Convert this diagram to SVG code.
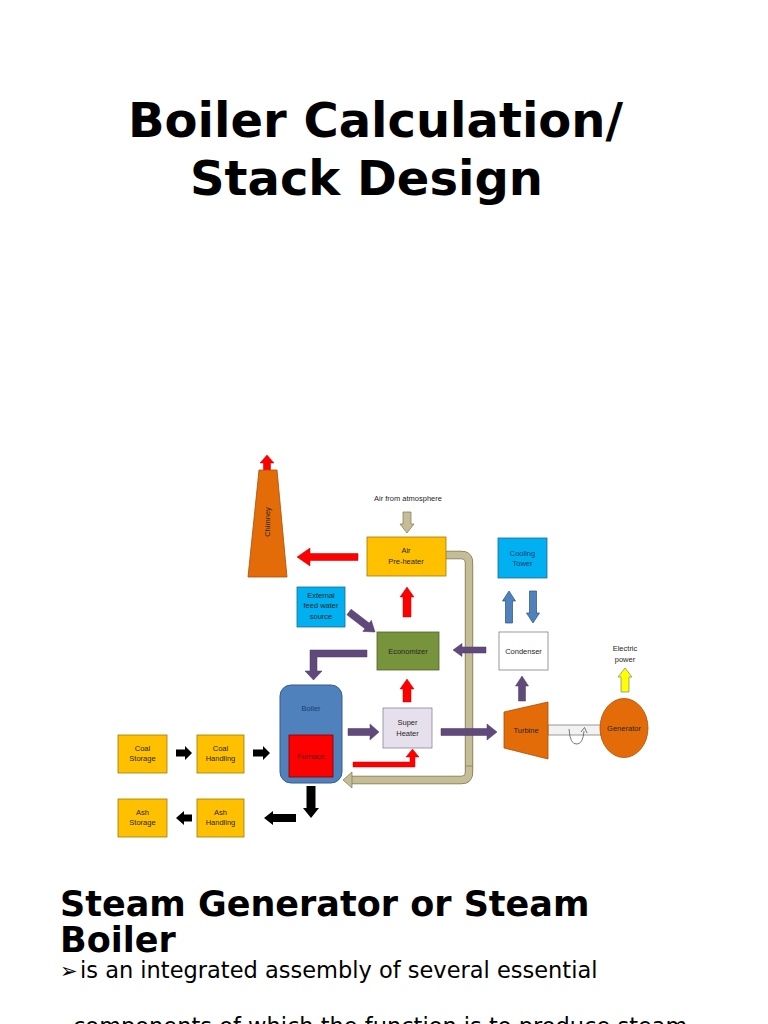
<svg xmlns="http://www.w3.org/2000/svg" width="768" height="1024" viewBox="0 0 768 1024">
<style>
.title{font-family:"DejaVu Sans",sans-serif;font-weight:bold;font-size:48px;fill:#000}
.h2{font-family:"DejaVu Sans",sans-serif;font-weight:bold;font-size:35px;fill:#000}
.body{font-family:"DejaVu Sans",sans-serif;font-size:22.5px;fill:#000}
.lbl{font-family:"Liberation Sans",Arial,sans-serif;font-size:7.5px;fill:#262626;text-anchor:middle}
.blue{fill:#1F3C6E}
.gold{fill:#FFC000;stroke:#9C7A0C;stroke-width:0.8}
.cyan{fill:#00B0F0;stroke:#1F6C8C;stroke-width:0.8}
.orange{fill:#E36C09;stroke:#A84E07;stroke-width:0.8}
.red{fill:#FF0000;stroke:#C00000;stroke-width:0.5}
.purple{fill:#604A7B;stroke:#4A3860;stroke-width:0.5}
.barrow{fill:#4F81BD;stroke:#2F4F7A;stroke-width:0.7}
.black{fill:#000}
.tan{fill:#C4BD97;stroke:#7F7650;stroke-width:0.7}
</style>

<g id="title">
<text class="title" x="128" y="137">Boiler Calculation/</text>
<text class="title" x="190" y="195">Stack Design</text>
</g>

<g id="connectors">
<path d="M446,555 H461 Q469,555 469,563 V772 Q469,780 461,780 H351" fill="none" stroke="#7F7650" stroke-width="8.4"/>
<path d="M446,555 H461 Q469,555 469,563 V772 Q469,780 461,780 H351" fill="none" stroke="#C4BD97" stroke-width="6.8"/>
<polygon class="tan" points="343,780 352,772 352,788"/>
<path d="M465.5,766 H472.5" stroke="#7F7650" stroke-width="0.7"/>
<polygon class="red" points="267,455 274,463 270.5,463 270.5,471 263.5,471 263.5,463 260,463"/>
<polygon class="tan" points="403,512 411,512 411,524 414,524 407,533 400,524 403,524"/>
<polygon class="red" points="297,557 310,548 310,553.5 358,553.5 358,560.5 310,560.5 310,566"/>
<polygon class="red" points="407,587 414,597 411,597 411,617 403,617 403,597 400,597"/>
<polygon class="red" points="407,679 414,689 411,689 411,702 403,702 403,689 400,689"/>
<polygon class="purple" points="375,632 362.8,631.45 364.93,628.68 346.87,614.78 351.14,609.22 369.2,623.12 371.34,620.35"/>
<polygon class="purple" points="367,650 310,650 310,671 305,671 313.5,680 322,671 317,671 317,657 367,657"/>
<polygon class="purple" points="453,650 462,643.5 462,647 486,647 486,653 462,653 462,656.5"/>
<polygon class="purple" points="522,676 528.5,686 525.5,686 525.5,701 518.5,701 518.5,686 515.5,686"/>
<polygon class="barrow" points="509,591 515.5,601 512.5,601 512.5,623 505.5,623 505.5,601 502.5,601"/>
<polygon class="barrow" points="529.5,591 536.5,591 536.5,613 539.5,613 533,623 526.5,613 529.5,613"/>
<polygon fill="#FFFF00" stroke="#7F7F7F" stroke-width="0.7" points="625,668 632,677 629,677 629,692 621,692 621,677 618,677"/>
<polygon class="purple" points="379,732 370,724 370,728.5 348,728.5 348,735.5 370,735.5 370,740"/>
<polygon class="purple" points="497,732 487,724 487,728.5 441,728.5 441,735.5 487,735.5 487,740"/>
<polygon class="red" points="353,762 410,762 410,757 406,757 412.5,749 419,757 415,757 415,767 353,767"/>
<polygon class="black" points="306.5,786 315.5,786 315.5,808 319,808 311,818 303,808 306.5,808"/>
<polygon class="black" points="192,753 185,746 185,749.5 176,749.5 176,756.5 185,756.5 185,760"/>
<polygon class="black" points="270,753 263,746 263,749.5 253,749.5 253,756.5 263,756.5 263,760"/>
<polygon class="black" points="176,818 184,811 184,814.5 192,814.5 192,821.5 184,821.5 184,825"/>
<polygon class="black" points="264,818 273,811 273,814 296,814 296,822 273,822 273,825"/>
<rect x="548" y="725" width="53" height="10" fill="#F2F2F2" stroke="#7F7F7F" stroke-width="0.8"/>
<path d="M569,729 Q570,745 577,744 Q583,744 584,731" fill="none" stroke="#595959" stroke-width="0.8"/>
<path d="M581,732 L584.5,727.5 L587,733" fill="none" stroke="#595959" stroke-width="0.8"/>
</g>

<g id="chimney">
<polygon class="orange" points="259,470 277,470 287,577 248,577"/>
<text class="lbl" transform="translate(270,522) rotate(-90)">Chimney</text>
</g>

<g id="air-label">
<text class="lbl" x="408" y="501">Air from atmosphere</text>
</g>

<g id="air-preheater">
<rect class="gold" x="367" y="537" width="79" height="39"/>
<text class="lbl" x="406" y="553">Air</text>
<text class="lbl" x="406" y="564">Pre-heater</text>
</g>

<g id="external-feed">
<rect class="cyan" x="297" y="587" width="48" height="40"/>
<text class="lbl" x="321" y="598">External</text>
<text class="lbl" x="321" y="608">feed water</text>
<text class="lbl" x="321" y="619">source</text>
</g>

<g id="economizer">
<rect x="377" y="632" width="62" height="38" fill="#77933C" stroke="#4F6228" stroke-width="0.8"/>
<text class="lbl" x="408" y="654">Economizer</text>
</g>

<g id="cooling-tower">
<rect class="cyan" x="498" y="538" width="49" height="40"/>
<text class="lbl blue" x="522.5" y="556">Cooling</text>
<text class="lbl blue" x="522.5" y="566">Tower</text>
</g>

<g id="condenser">
<rect x="499" y="632" width="49" height="38" fill="#FFFFFF" stroke="#7F7F7F" stroke-width="0.8"/>
<text class="lbl" x="523.5" y="654">Condenser</text>
</g>

<g id="electric-power">
<text class="lbl" x="625" y="651">Electric</text>
<text class="lbl" x="625" y="662">power</text>
</g>

<g id="boiler">
<rect x="280" y="685" width="62" height="98" rx="11" fill="#4F81BD" stroke="#385D8A" stroke-width="1"/>
<text class="lbl blue" x="311" y="711">Boiler</text>
</g>

<g id="furnace">
<rect x="289" y="735" width="44" height="42" fill="#FF0000" stroke="#7F0000" stroke-width="0.8"/>
<text class="lbl" x="311" y="759" style="fill:#5A1010">Furnace</text>
</g>

<g id="super-heater">
<rect x="383" y="708" width="49" height="40" fill="#E6E0EC" stroke="#8C8494" stroke-width="0.8"/>
<text class="lbl" x="407.5" y="725">Super</text>
<text class="lbl" x="407.5" y="736">Heater</text>
</g>

<g id="turbine">
<polygon class="orange" points="504,712 548,702 548,759 504,748"/>
<text class="lbl" x="526" y="733">Turbine</text>
</g>

<g id="generator">
<ellipse class="orange" cx="624" cy="728" rx="24" ry="29.5"/>
<text class="lbl" x="624" y="731">Generator</text>
</g>

<g id="coal-storage">
<rect class="gold" x="118" y="735" width="49" height="38"/>
<text class="lbl" x="142.5" y="751">Coal</text>
<text class="lbl" x="142.5" y="761">Storage</text>
</g>

<g id="coal-handling">
<rect class="gold" x="197" y="735" width="47" height="38"/>
<text class="lbl" x="220.5" y="751">Coal</text>
<text class="lbl" x="220.5" y="761">Handling</text>
</g>

<g id="ash-storage">
<rect class="gold" x="118" y="799" width="49" height="38"/>
<text class="lbl" x="142.5" y="815">Ash</text>
<text class="lbl" x="142.5" y="825">Storage</text>
</g>

<g id="ash-handling">
<rect class="gold" x="197" y="799" width="47" height="38"/>
<text class="lbl" x="220.5" y="815">Ash</text>
<text class="lbl" x="220.5" y="825">Handling</text>
</g>

<g id="body-text">
<text class="h2" x="60" y="916">Steam Generator or Steam</text>
<text class="h2" x="60" y="952">Boiler</text>
<text class="body" x="60" y="978" style="font-size:21px">➢</text>
<text class="body" x="80" y="978">is an integrated assembly of several essential</text>
<text class="body" x="73" y="1034">components of which the function is to produce steam</text>
</g>
</svg>
